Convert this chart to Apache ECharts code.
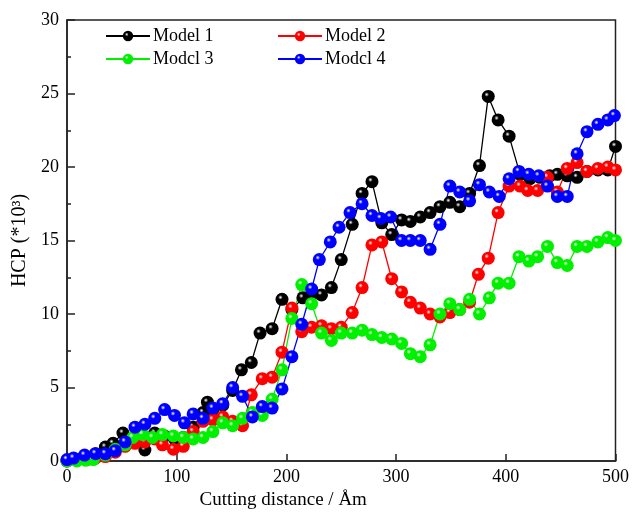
<!DOCTYPE html>
<html>
<head>
<meta charset="utf-8">
<script src="https://cdn.jsdelivr.net/npm/echarts@6/dist/echarts.min.js"></script>
<style>
  html, body { margin: 0; padding: 0; background: #fff; }
  #chart { width: 632px; height: 516px; }
</style>
</head>
<body>
<div id="chart"></div>
<script>
var names = ['Model 1', 'Model 2', 'Modcl 3', 'Modcl 4'];
var colors = ['#000000', '#ff0000', '#00f000', '#0000ff'];
var xTicks = [0, 100, 200, 300, 400, 500];

// model 1 (black)
var m1X = [0, 9, 18, 26, 35, 42, 51, 60, 71, 80, 89, 98, 106, 115, 124, 128, 133, 142, 151, 159, 168, 176, 187, 196, 205, 215, 223, 232, 241, 250, 260, 269, 278, 287, 296, 305, 313, 322, 331, 340, 349, 358, 367, 376, 384, 393, 403, 413, 422, 431, 440, 447, 456, 465, 474, 484, 493, 500];
var m1Y = [0, 0.1, 0.2, 0.5, 0.95, 1.2, 1.9, 1.5, 0.75, 1.9, 1.7, 1.5, 1.6, 2.3, 3.3, 4.0, 3.5, 3.8, 4.8, 6.2, 6.7, 8.7, 9.0, 11.0, 10.3, 11.1, 11.3, 11.3, 11.8, 13.7, 16.1, 18.2, 19.0, 16.2, 15.4, 16.4, 16.3, 16.6, 16.9, 17.3, 17.6, 17.3, 18.2, 20.1, 24.8, 23.2, 22.1, 19.5, 19.2, 19.3, 19.4, 19.5, 19.4, 19.3, 19.7, 19.8, 19.8, 21.4];

// model 2 (red)
var m2X = [0, 9, 18, 26, 35, 44, 53, 62, 71, 80, 87, 97, 106, 115, 124, 133, 142, 151, 160, 168, 178, 187, 196, 205, 214, 223, 232, 241, 250, 260, 269, 278, 287, 296, 305, 313, 322, 331, 340, 349, 358, 367, 375, 384, 393, 403, 413, 420, 429, 438, 447, 456, 465, 474, 484, 493, 500];
var m2Y = [0, 0.1, 0.1, 0.2, 0.3, 0.6, 1.0, 1.2, 1.3, 1.5, 1.1, 0.8, 1.0, 2.0, 2.7, 2.8, 3.0, 2.7, 2.4, 4.5, 5.6, 5.7, 7.4, 10.4, 8.8, 9.1, 9.2, 9.0, 9.1, 10.1, 11.8, 14.7, 14.9, 12.4, 11.5, 10.8, 10.4, 10.0, 9.8, 10.1, 10.3, 10.8, 12.7, 13.8, 16.9, 18.7, 18.7, 18.4, 18.4, 19.3, 18.3, 19.9, 20.3, 19.7, 19.9, 20.0, 19.8];

// model 3 (green)
var m3X = [0, 9, 17, 24, 35, 44, 53, 60, 69, 78, 87, 97, 106, 115, 124, 133, 142, 151, 160, 169, 178, 187, 196, 205, 214, 223, 232, 241, 250, 260, 269, 278, 287, 296, 305, 313, 322, 331, 340, 349, 358, 367, 376, 385, 393, 403, 412, 421, 429, 438, 447, 456, 465, 474, 484, 493, 500];
var m3Y = [0, 0, 0.05, 0.1, 0.4, 0.8, 1.1, 1.6, 1.8, 1.6, 1.8, 1.7, 1.6, 1.5, 1.6, 2.0, 2.6, 2.4, 2.9, 3.3, 3.1, 4.2, 6.2, 9.7, 12.0, 10.7, 8.7, 8.2, 8.7, 8.7, 8.9, 8.6, 8.4, 8.3, 8.0, 7.3, 7.1, 7.9, 10.0, 10.7, 10.3, 11.0, 10.0, 11.1, 12.1, 12.1, 13.9, 13.6, 13.9, 14.6, 13.5, 13.3, 14.6, 14.6, 14.9, 15.2, 15.0];

// model 4 (blue)
var m4X = [0, 6, 16, 26, 35, 44, 53, 62, 71, 80, 89, 98, 107, 115, 124, 133, 142, 151, 160, 169, 178, 187, 196, 205, 214, 223, 230, 240, 248, 258, 269, 278, 286, 295, 305, 313, 322, 331, 340, 349, 358, 367, 376, 385, 394, 403, 412, 421, 430, 438, 447, 456, 465, 474, 484, 493, 499];
var m4Y = [0.1, 0.2, 0.4, 0.5, 0.5, 0.7, 1.3, 2.3, 2.5, 2.9, 3.5, 3.1, 2.6, 3.2, 2.9, 3.6, 3.9, 5.0, 4.4, 3.0, 3.7, 3.6, 4.9, 7.1, 9.3, 11.7, 13.7, 14.9, 15.9, 16.9, 17.5, 16.7, 16.5, 16.6, 15.0, 15.0, 15.0, 14.4, 16.1, 18.7, 18.3, 17.7, 18.8, 18.3, 18.0, 19.2, 19.7, 19.5, 19.4, 18.7, 18.0, 18.0, 20.9, 22.4, 22.9, 23.2, 23.5];

var allX = [m1X, m2X, m3X, m4X];
var allY = [m1Y, m2Y, m3Y, m4Y];

function zip(xs, ys) {
    let out = [];
    for (let i = 0; i < xs.length; i++) {
        out.push([xs[i], ys[i]]);
    }
    return out;
}

// glossy ball look for the markers
function ball(c) {
    return {
        type: 'radial', x: 0.38, y: 0.35, r: 0.7,
        colorStops: [
            {offset: 0, color: '#ffffff'},
            {offset: 0.25, color: c},
            {offset: 1, color: c}
        ]
    };
}

var font = '"Liberation Serif", "Times New Roman", serif';
var series = [];
for (let i = 0; i < 4; i++) {
    series.push({
        name: names[i],
        type: 'line',
        data: zip(allX[i], allY[i]),
        symbol: 'circle',
        symbolSize: 13,
        lineStyle: {color: colors[i], width: 1.3},
        itemStyle: {color: ball(colors[i]), borderWidth: 0},
        emphasis: {disabled: true},
        animation: false
    });
}

var legendPos = [[105, 27], [277, 27], [105, 50], [277, 50]];
var legends = [];
for (let i = 0; i < 4; i++) {
    legends.push({
        data: [names[i]],
        left: legendPos[i][0],
        top: legendPos[i][1],
        itemWidth: 44,
        itemHeight: 13,
        itemGap: 0,
        padding: 0,
        textStyle: {fontFamily: font, fontSize: 18, color: '#000', padding: [0, 0, 0, -2]}
    });
}

var myChart = echarts.init(document.getElementById('chart'));
var option = {
    backgroundColor: '#fff',
    legend: legends,
    grid: {
        left: 67, right: 16, top: 20, bottom: 55,
        show: true, borderColor: '#222', borderWidth: 1.5
    },
    xAxis: {
        type: 'value',
        min: 0, max: 500, interval: 100,
        name: 'Cutting distance / Åm',
        nameLocation: 'middle',
        nameGap: 24,
        // title sits left of the plot centre in the original
        nameTextStyle: {fontFamily: font, fontSize: 19, color: '#000', padding: [0, 116, 0, 0]},
        axisLine: {lineStyle: {color: '#222', width: 1.5}},
        axisTick: {inside: true, length: 7, lineStyle: {color: '#222', width: 1.5}},
        axisLabel: {fontFamily: font, fontSize: 18, color: '#000', margin: 7,
            formatter: function (v) { return xTicks.indexOf(v) >= 0 ? String(v) : ''; }},
        splitLine: {show: false}
    },
    yAxis: {
        type: 'value',
        min: 0, max: 30, interval: 5,
        name: 'HCP (*10³)',
        nameLocation: 'middle',
        nameGap: 35,
        nameTextStyle: {fontFamily: font, fontSize: 20, color: '#000'},
        axisLine: {show: true, lineStyle: {color: '#222', width: 1.5}},
        axisTick: {inside: true, length: 8, lineStyle: {color: '#222', width: 1.5}},
        minorTick: {show: true, splitNumber: 2, length: 4, lineStyle: {color: '#222', width: 1.5}},
        axisLabel: {fontFamily: font, fontSize: 18, color: '#000', margin: 8},
        splitLine: {show: false}
    },
    series: series
};
myChart.setOption(option);
</script>
</body>
</html>
